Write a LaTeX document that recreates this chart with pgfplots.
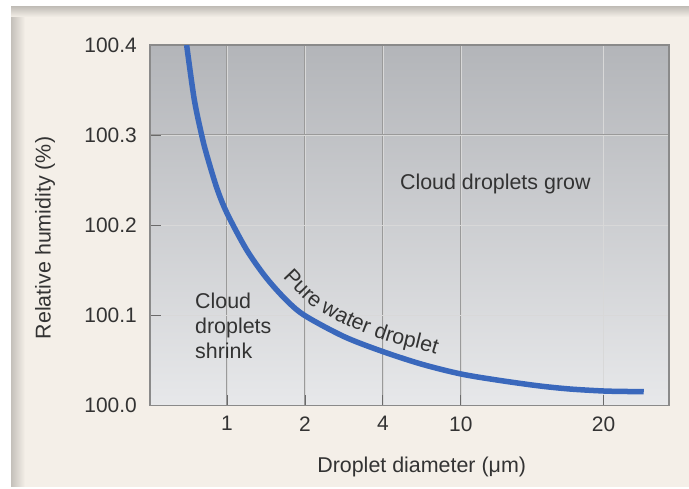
\documentclass[border=0pt]{standalone}
\usepackage{pgfplots}
\pgfplotsset{compat=1.18}
\usepackage{fontspec}
\setmainfont{Liberation Sans}
\usetikzlibrary{decorations.text}
\definecolor{cream}{HTML}{F4EFE8}
\definecolor{edge}{HTML}{C4C0BA}
\definecolor{txt}{HTML}{333333}
\definecolor{curvec}{HTML}{3A68BC}
\definecolor{plottop}{HTML}{B3B5B9}
\definecolor{plotbot}{HTML}{E7E8EA}
\definecolor{gridc}{HTML}{9A9A9A}
\definecolor{gridin}{HTML}{D8D8D8}
\definecolor{framec}{HTML}{8A8A8A}
\definecolor{tickc}{HTML}{6A6A6A}
\newcommand{\fs}{\fontsize{21.5}{25}\selectfont}
\newcommand{\ft}{\fontsize{21}{25}\selectfont}
\begin{document}
\begin{tikzpicture}
\fill[white] (0,0) rectangle (689bp,489bp);
\fill[cream] (11bp,2bp) rectangle (689bp,482bp);
\shade[left color=edge, right color=cream] (11bp,2bp) rectangle (25bp,482bp);
\shade[top color=edge, bottom color=cream] (11bp,472bp) rectangle (689bp,482bp);
\begin{axis}[
  scale only axis, width=519bp, height=360.7bp,
  at={(150bp,83.3bp)}, anchor=south west,
  xmin=0.013, xmax=6.67, ymin=100, ymax=100.4,
  xtick={1,2,3,4,5.83}, xticklabels={{\ft 1},{\ft 2},{\ft 4},{\ft 10},{\ft 20}},
  ytick={100,100.1,100.2,100.3,100.4},
  yticklabels={{\ft 100.0},{\ft 100.1},{\ft 100.2},{\ft 100.3},{\ft 100.4}},
  /pgf/number format/assume math mode=true,
  tick pos=left, tick align=inside, major tick length=11bp,
  tick style={draw=tickc, line width=0.8bp},
  axis line style={draw=framec, line width=1.2bp},
  grid=major,
  major grid style={draw=gridc, line width=0.45bp, double=gridin, double distance=0.6bp},
  axis background/.style={top color=plottop, bottom color=plotbot},
  every tick label/.append style={font=\ft, text=txt},
  every y tick label/.append style={anchor=east, inner sep=0pt, xshift=-13bp},
  every x tick label/.append style={anchor=north, inner sep=0pt, yshift=-10.5bp},
  xlabel={Droplet diameter (μm)},
  xlabel style={font=\fs, text=txt, at={(axis description cs:0.5235,0)}, anchor=center, yshift=-61.3bp},
  ylabel={Relative humidity (\%)},
  ylabel style={font=\fs, text=txt, at={(axis description cs:-0.2023,0.465)}, anchor=center, rotate=0},
  clip=true,
]
\addplot[curvec, line width=5.5bp, smooth, line cap=butt] coordinates {
(0.483,100.400) (0.58,100.340) (0.676,100.300) (0.74,100.2784) (0.87,100.2414)
(1.0,100.2136) (1.25,100.1732) (1.494,100.143) (1.74,100.119) (1.987,100.1006)
(2.5,100.0767) (3.0,100.060) (3.5,100.046) (4.0,100.0352) (4.5,100.028)
(5.0,100.022) (5.4,100.0185) (5.83,100.0163) (6.1,100.0158) (6.346,100.0155)
};
\addplot[draw=none, smooth, postaction={decorate},
  decoration={text along path, text={|\fs\color{txt}|Pure water droplet}, text align={left indent=12bp}}]
  coordinates {(1.609,100.1521) (2.077,100.1112) (2.551,100.0884) (3.035,100.0722) (3.526,100.0613) (4.036,100.0481) (4.5,100.040)};
\node[font=\fs, text=txt, anchor=west, inner sep=0pt] at (axis cs:3.218,100.2458) {Cloud droplets grow};
\node[font=\fs, text=txt, anchor=north west, inner sep=0pt, align=left] at (axis cs:0.59,100.125) {Cloud\\droplets\\shrink};
\end{axis}
\pgfresetboundingbox
\useasboundingbox (0,0) rectangle (689bp,489bp);
\end{tikzpicture}
\end{document}
